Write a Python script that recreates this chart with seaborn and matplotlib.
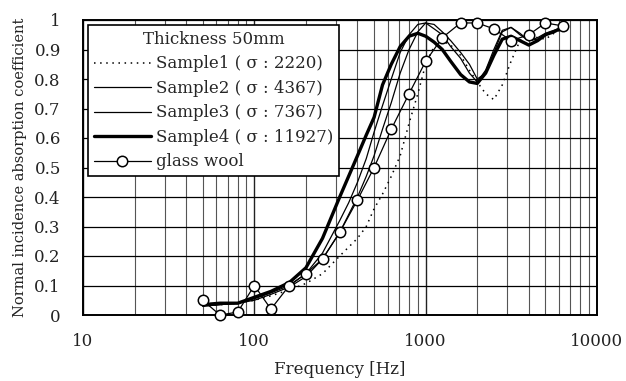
import numpy as np
import pandas as pd
import matplotlib
matplotlib.use("Agg")
import matplotlib.pyplot as plt
import seaborn as sns
from matplotlib.ticker import FixedLocator, FuncFormatter, LogLocator, NullFormatter

# ---------------- data ----------------
freq_samples = [50, 63, 80, 100, 125, 160, 200, 250, 315, 355, 400, 450, 500, 560, 630,
                710, 800, 900, 1000, 1120, 1250, 1400, 1600, 1800, 2000, 2240, 2500,
                2800, 3150, 3550, 4000, 4500, 5000, 5600, 6300]

sample1 = [0.030, 0.035, 0.040, 0.050, 0.065, 0.085, 0.107, 0.140, 0.200, 0.230, 0.260,
           0.300, 0.360, 0.410, 0.470, 0.540, 0.650, 0.750, 0.850, 0.910, 0.930, 0.915,
           0.880, 0.830, 0.790, 0.750, 0.730, 0.780, 0.860, 0.930, 0.950, 0.940, 0.935,
           0.955, 0.970]
sample2 = [0.030, 0.035, 0.040, 0.050, 0.070, 0.095, 0.130, 0.190, 0.280, 0.340, 0.400,
           0.470, 0.540, 0.630, 0.720, 0.820, 0.900, 0.960, 0.990, 0.985, 0.960, 0.930,
           0.890, 0.850, 0.800, 0.820, 0.890, 0.960, 0.975, 0.955, 0.930, 0.935, 0.950,
           0.960, 0.975]
sample3 = [0.030, 0.035, 0.040, 0.055, 0.075, 0.100, 0.140, 0.210, 0.320, 0.380, 0.450,
           0.530, 0.620, 0.710, 0.800, 0.890, 0.950, 0.985, 0.990, 0.970, 0.950, 0.910,
           0.870, 0.820, 0.790, 0.830, 0.900, 0.965, 0.975, 0.950, 0.930, 0.940, 0.955,
           0.965, 0.975]
sample4 = [0.035, 0.040, 0.040, 0.060, 0.080, 0.110, 0.160, 0.260, 0.400, 0.470, 0.540,
           0.610, 0.670, 0.780, 0.850, 0.910, 0.945, 0.955, 0.945, 0.925, 0.900, 0.860,
           0.815, 0.790, 0.785, 0.820, 0.880, 0.935, 0.945, 0.930, 0.915, 0.930, 0.950,
           0.960, 0.975]

freq_glass = [50, 63, 80, 100, 125, 160, 200, 250, 315, 400, 500, 630, 800, 1000, 1250,
              1600, 2000, 2500, 3150, 4000, 5000, 6300]
glass_wool = [0.05, 0.00, 0.01, 0.10, 0.02, 0.10, 0.14, 0.19, 0.28, 0.39, 0.50, 0.63,
              0.75, 0.86, 0.94, 0.99, 0.99, 0.97, 0.93, 0.95, 0.99, 0.98]

labels = ["Sample1 ( σ : 2220)", "Sample2 ( σ : 4367)", "Sample3 ( σ : 7367)",
          "Sample4 ( σ : 11927)", "glass wool"]
legend_title = "Thickness 50mm"
x_ticks = [10, 100, 1000, 10000]
y_ticks = [0, 0.1, 0.2, 0.3, 0.4, 0.5, 0.6, 0.7, 0.8, 0.9, 1.0]

# ---------------- style ----------------
sns.set_style("white")
plt.rcParams['font.family'] = ['DejaVu Serif']

fig = plt.figure(figsize=(6.26, 3.81), dpi=100)
ax = fig.add_axes([83 / 626, 1 - 315 / 381, (597 - 83) / 626, (315 - 20) / 381])

df_s = pd.DataFrame({"f": freq_samples, "s1": sample1, "s2": sample2,
                     "s3": sample3, "s4": sample4})
df_g = pd.DataFrame({"f": freq_glass, "g": glass_wool})

sns.lineplot(data=df_s, x="f", y="s1", ax=ax, color="black", lw=1.1,
             linestyle=(0, (1.0, 3.0)), label=labels[0], zorder=3)
sns.lineplot(data=df_s, x="f", y="s2", ax=ax, color="black", lw=0.9,
             label=labels[1], zorder=3)
sns.lineplot(data=df_s, x="f", y="s3", ax=ax, color="black", lw=0.9,
             label=labels[2], zorder=3)
sns.lineplot(data=df_s, x="f", y="s4", ax=ax, color="black", lw=2.4,
             label=labels[3], zorder=4)
sns.lineplot(data=df_g, x="f", y="g", ax=ax, color="black", lw=0.9,
             marker="o", markersize=7.5, markerfacecolor="white",
             markeredgecolor="black", markeredgewidth=1.1,
             label=labels[4], zorder=5, clip_on=False)

ax.set_xscale("log")
ax.set_xlim(10, 10000)
ax.set_ylim(0, 1)

ax.xaxis.set_major_locator(FixedLocator(x_ticks))
ax.xaxis.set_major_formatter(FuncFormatter(lambda v, p: f"{int(round(v))}"))
ax.xaxis.set_minor_locator(LogLocator(base=10, subs=np.arange(2, 10)))
ax.xaxis.set_minor_formatter(NullFormatter())
ax.yaxis.set_major_locator(FixedLocator(y_ticks))
ax.yaxis.set_major_formatter(FuncFormatter(lambda v, p: f"{v:g}"))

ax.grid(True, which="major", axis="y", color="black", lw=0.9)
ax.grid(True, which="major", axis="x", color="#222222", lw=1.0)
ax.grid(True, which="minor", axis="x", color="#555555", lw=0.8)
ax.set_axisbelow(True)

ax.tick_params(axis="both", which="both", length=0, labelsize=12, colors="#222222")
ax.tick_params(axis="x", pad=13)
ax.tick_params(axis="y", pad=16)

for sp in ax.spines.values():
    sp.set_visible(True)
    sp.set_color("black")
    sp.set_linewidth(1.4)

ax.set_xlabel("Frequency [Hz]", fontsize=12, color="#222222", labelpad=8)
ax.set_ylabel("Normal incidence absorption coefficient", fontsize=10.5,
              color="#222222", labelpad=5)

leg = ax.legend(loc="upper left", bbox_to_anchor=(0.0, 1.0), borderaxespad=0.3,
                title=legend_title, title_fontsize=12, fontsize=12,
                frameon=True, fancybox=False, edgecolor="black", framealpha=1,
                handlelength=3.4, handletextpad=0.3, labelspacing=0.45,
                borderpad=0.35)
leg.get_frame().set_linewidth(1.2)

fig.savefig("out.png", dpi=100)
